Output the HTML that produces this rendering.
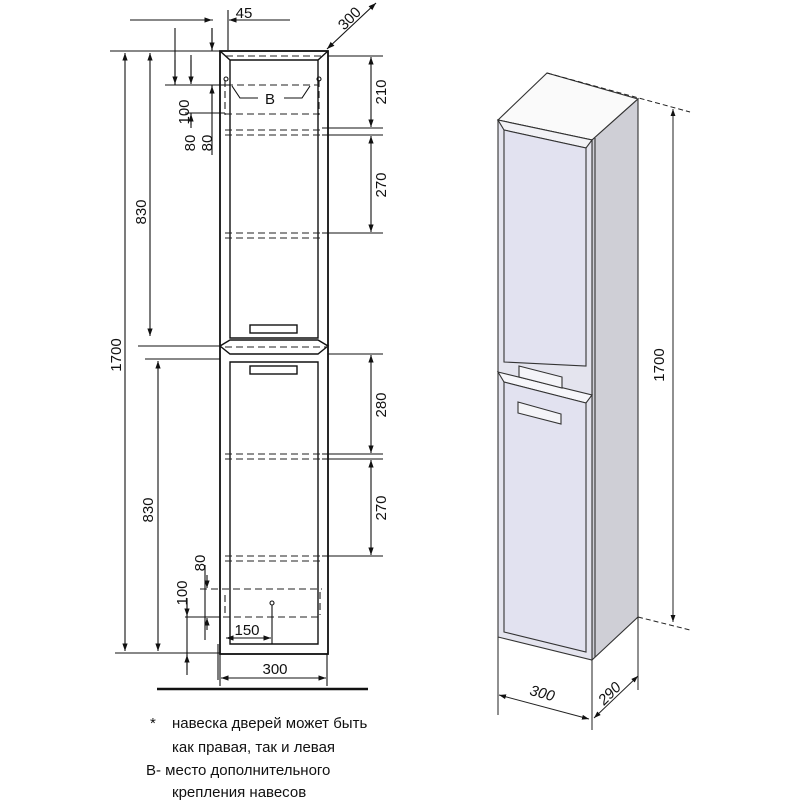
<!DOCTYPE html>
<html><head><meta charset="utf-8"><style>
body{margin:0;background:#fff;}
svg{display:block;font-family:"Liberation Sans",sans-serif;}
</style></head><body>
<svg width="800" height="800" viewBox="0 0 800 800" xmlns="http://www.w3.org/2000/svg">
<defs>
<marker id="a" viewBox="0 0 10 10" refX="10" refY="5" markerWidth="7" markerHeight="7" orient="auto-start-reverse"><path d="M0,1.5 L10,5 L0,8.5 Z" fill="#111"/></marker>
</defs>
<g stroke="#111" stroke-width="1.1" fill="none">
<rect x="220" y="51" width="108" height="603" stroke-width="1.8"/>
<path d="M220,51 L230,60 L318,60 L328,51 M230,60 L230,338 L318,338 L318,60" stroke-width="1.4"/>
<path d="M220,346 L230,340 L318,340 L328,346 L318,354 L230,354 Z" stroke-width="1.4"/>
<path d="M230,362 L318,362 L318,644 L230,644 Z" stroke-width="1.4"/>
<rect x="250" y="325" width="47" height="8" stroke-width="1.4"/>
<rect x="250" y="366" width="47" height="8" stroke-width="1.4"/>
<g stroke-dasharray="7,4" stroke="#222">
<path d="M226,56 L322,56 M225,130 L322,130 M225,135 L322,135 M225,233 L322,233 M225,238 L322,238 M225,454 L322,454 M225,459 L322,459 M225,556 L322,556 M225,561 L322,561 M200,589 L322,589 M190,617 L322,617 M226,85 L318,85 M225,114 L318,114 M225,347 L328,347"/>
<path d="M225,80 L225,115 M319,80 L319,115 M225,595 L225,615 M320,592 L320,615"/>
</g>
<path d="M232,86 L240,98 L258,98 M284,98 L302,98 L310,86"/>
<circle cx="226" cy="79" r="2"/><circle cx="319" cy="79" r="2"/><circle cx="272" cy="603" r="2"/>
<path d="M272,605 L272,644"/>
<path d="M110,51 L220,51 M115,653 L220,653 M138,346 L220,346 M145,359 L220,359"/>
<line x1="125" y1="53" x2="125" y2="651" marker-start="url(#a)" marker-end="url(#a)"/>
<line x1="150" y1="53" x2="150" y2="336" marker-start="url(#a)" marker-end="url(#a)"/>
<line x1="158" y1="361" x2="158" y2="651" marker-start="url(#a)" marker-end="url(#a)"/>
<path d="M165,85 L230,85 M185,113 L225,113 M175,60 L175,85 M191,55 L191,80 M212,28 L212,51 M212,85 L212,155 M191,113 L191,125 M130,20 L213,20 M228,10 L228,50"/>
<line x1="175" y1="28" x2="175" y2="84" marker-end="url(#a)"/>
<line x1="191" y1="60" x2="191" y2="84" marker-end="url(#a)"/>
<line x1="212" y1="28" x2="212" y2="50" marker-end="url(#a)"/>
<line x1="212" y1="110" x2="212" y2="86" marker-end="url(#a)"/>
<line x1="191" y1="128" x2="191" y2="114" marker-end="url(#a)"/>
<line x1="190" y1="20" x2="212" y2="20" marker-end="url(#a)"/>
<line x1="290" y1="20" x2="229" y2="20" marker-end="url(#a)"/>
<path d="M185,617 L220,617 M205,565 L205,640 M187,598 L187,675 M218,644 L218,680"/>
<line x1="207" y1="575" x2="207" y2="588" marker-end="url(#a)"/>
<line x1="207" y1="630" x2="207" y2="618" marker-end="url(#a)"/>
<line x1="187" y1="600" x2="187" y2="616" marker-end="url(#a)"/>
<line x1="187" y1="670" x2="187" y2="655" marker-end="url(#a)"/>
<line x1="226" y1="638" x2="271" y2="638" marker-start="url(#a)" marker-end="url(#a)"/>
<line x1="327" y1="49" x2="376" y2="3" marker-start="url(#a)" marker-end="url(#a)"/>
<path d="M328,56 L383,56 M322,128 L383,128 M322,135 L383,135 M322,233 L383,233 M328,354 L383,354 M322,454 L383,454 M322,459 L383,459 M322,556 L383,556"/>
<line x1="371" y1="57" x2="371" y2="127" marker-start="url(#a)" marker-end="url(#a)"/>
<line x1="371" y1="136" x2="371" y2="232" marker-start="url(#a)" marker-end="url(#a)"/>
<line x1="371" y1="355" x2="371" y2="453" marker-start="url(#a)" marker-end="url(#a)"/>
<line x1="371" y1="460" x2="371" y2="555" marker-start="url(#a)" marker-end="url(#a)"/>
<path d="M220,654 L220,686 M327,654 L327,686"/>
<line x1="221" y1="678" x2="326" y2="678" marker-start="url(#a)" marker-end="url(#a)"/>
<line x1="157" y1="689" x2="368" y2="689" stroke-width="2.5"/>
</g>
<g font-size="15" fill="#111" text-anchor="middle">
<text x="244" y="18">45</text>
<text x="270" y="104">B</text>
<text x="353" y="22" transform="rotate(-45 353 22)">300</text>
<text transform="translate(121,355) rotate(-90)">1700</text>
<text transform="translate(146,212) rotate(-90)">830</text>
<text transform="translate(153,510) rotate(-90)">830</text>
<text transform="translate(386,92) rotate(-90)">210</text>
<text transform="translate(386,185) rotate(-90)">270</text>
<text transform="translate(386,405) rotate(-90)">280</text>
<text transform="translate(386,508) rotate(-90)">270</text>
<text transform="translate(189,112) rotate(-90)">100</text>
<text transform="translate(195,143) rotate(-90)">80</text>
<text transform="translate(212,143) rotate(-90)">80</text>
<text transform="translate(205,563) rotate(-90)">80</text>
<text transform="translate(187,593) rotate(-90)">100</text>
<text x="247" y="635">150</text>
<text x="275" y="674">300</text>
</g>
<g stroke="#333" stroke-width="1.1">
<polygon points="498,120 547,73 638,99 592,140" fill="#fafafa"/>
<polygon points="592,140 638,99 638,617 592,660" fill="#cfcfd6"/>
<polygon points="498,120 592,140 592,660 498,637" fill="#e4e4ee"/>
<polygon points="498,120 592,140 586,148 504,130" fill="#f2f2f6"/>
<polygon points="504,130 586,148 586,366 504,362" fill="#e2e2f0"/>
<polygon points="498,372 592,395 586,403 504,382" fill="#f6f6fa"/>
<polygon points="504,382 586,403 586,652 504,632" fill="#e2e2f0"/>
<line x1="595" y1="138" x2="595" y2="657"/>
<polygon points="519,366 562,377 562,388 519,377" fill="#f4f4f8"/>
<polygon points="518,402 561,414 561,424 518,413" fill="#f4f4f8"/>
</g>
<g stroke="#222" stroke-width="1" fill="none">
<path d="M547,73 L690,112 M638,617 L690,630" stroke-dasharray="5,3"/>
<path d="M498,637 L498,715 M592,660 L592,730 M638,617 L638,690"/>
<line x1="673" y1="109" x2="673" y2="622" marker-start="url(#a)" marker-end="url(#a)"/>
<line x1="499" y1="695" x2="589" y2="719" marker-start="url(#a)" marker-end="url(#a)"/>
<line x1="594" y1="718" x2="638" y2="676" marker-start="url(#a)" marker-end="url(#a)"/>
</g>
<g font-size="15" fill="#111" text-anchor="middle">
<text transform="translate(664,365) rotate(-90)">1700</text>
<text x="541" y="698" transform="rotate(15 541 698)" font-style="italic">300</text>
<text x="613" y="697" transform="rotate(-45 613 697)" font-style="italic">290</text>
</g>
<g font-size="15" fill="#111">
<text x="150" y="728">*</text>
<text x="172" y="728">навеска дверей может быть</text>
<text x="172" y="752">как правая, так и левая</text>
<text x="146" y="775">В- место дополнительного</text>
<text x="172" y="797">крепления навесов</text>
</g>
</svg>
</body></html>
